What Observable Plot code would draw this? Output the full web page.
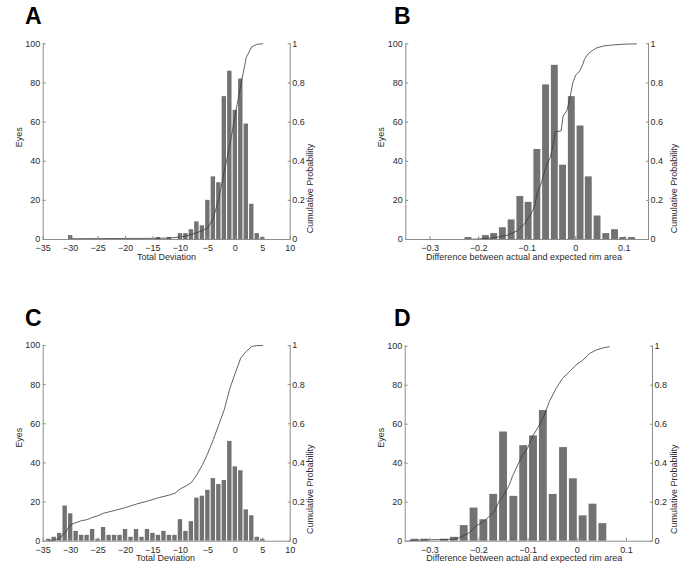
<!DOCTYPE html>
<html><head><meta charset="utf-8">
<script src="https://cdn.jsdelivr.net/npm/d3@7"></script>
<script src="https://cdn.jsdelivr.net/npm/@observablehq/plot@0.6"></script>
<style>
body{margin:0;background:#fff;}
#root{position:relative;width:685px;height:568px;background:#fff;overflow:hidden;}
.panel{position:absolute;}
.letter{position:absolute;font:bold 23px "Liberation Sans",Arial,sans-serif;color:#000;line-height:1;}
</style></head><body><div id="root"></div>
<script>
// ---------- data ----------
const yTicks = [0, 20, 40, 60, 80, 100];
const tdTicks = [-35, -30, -25, -20, -15, -10, -5, 0, 5, 10];
const rimTicks = [-0.3, -0.2, -0.1, 0, 0.1];

// Panel A: Total Deviation histogram
const aBins = [-30, -14, -12, -10, -9, -8, -7, -6, -5, -4, -3, -2, -1, 0, 1, 2, 3, 4, 5];
const aEyes = [2, 1, 1, 3, 3, 5, 9, 7, 20, 32, 29, 73, 86, 66, 82, 59, 18, 3, 1];
const aCdfX = [-30, -14, -12, -10, -9, -8, -7, -6, -5, -4, -3, -2, -1, 0, 1, 2, 3, 4, 5];
const aCdfP = [0.004, 0.006, 0.008, 0.012, 0.018, 0.025, 0.035, 0.045, 0.06, 0.11, 0.21, 0.35, 0.48, 0.64, 0.79, 0.93, 0.985, 0.998, 1.0];

// Panel B: rim area difference histogram
const bBins = [-0.221, -0.203, -0.185, -0.168, -0.150, -0.132, -0.114, -0.097, -0.079, -0.061, -0.043, -0.026, -0.008, 0.010, 0.027, 0.045, 0.063, 0.081, 0.098, 0.116];
const bEyes = [1, 0, 2, 3, 6, 10, 22, 19, 46, 79, 89, 38, 73, 58, 32, 12, 3, 5, 1, 1];
const bCdfX = [-0.224, -0.20, -0.18, -0.16, -0.14, -0.12, -0.105, -0.095, -0.088, -0.083, -0.079, -0.072, -0.066, -0.060, -0.052, -0.047, -0.042, -0.030, -0.026, -0.018, -0.012, -0.006, 0.0, 0.008, 0.014, 0.018, 0.026, 0.034, 0.044, 0.060, 0.080, 0.100, 0.125];
const bCdfP = [0.0, 0.003, 0.006, 0.012, 0.022, 0.045, 0.08, 0.12, 0.15, 0.19, 0.24, 0.28, 0.33, 0.38, 0.42, 0.48, 0.55, 0.555, 0.63, 0.66, 0.72, 0.80, 0.84, 0.86, 0.89, 0.92, 0.95, 0.965, 0.98, 0.99, 0.995, 0.998, 1.0];

// Panel C: Total Deviation histogram
const cBins = [-34, -33, -32, -31, -30, -29, -28, -27, -26, -25, -24, -23, -22, -21, -20, -19, -18, -17, -16, -15, -14, -13, -12, -11, -10, -9, -8, -7, -6, -5, -4, -3, -2, -1, 0, 1, 2, 3, 4, 5];
const cEyes = [1, 2, 4, 18, 14, 5, 3, 3, 6, 1, 7, 3, 3, 3, 6, 2, 6, 2, 6, 4, 3, 5, 3, 3, 11, 5, 10, 22, 23, 26, 32, 29, 31, 51, 38, 36, 16, 13, 2, 1];
const cCdfX = [-34, -33, -32, -31, -30, -29, -28, -27, -26, -25, -24, -22, -20, -18, -16, -14, -12, -11, -10, -9, -8, -7, -6, -5, -4, -3, -2, -1, 0, 1, 2, 3, 4, 5];
const cCdfP = [0.002, 0.006, 0.015, 0.045, 0.085, 0.095, 0.105, 0.11, 0.122, 0.13, 0.143, 0.157, 0.172, 0.19, 0.205, 0.222, 0.236, 0.245, 0.268, 0.282, 0.30, 0.34, 0.39, 0.45, 0.52, 0.596, 0.673, 0.78, 0.86, 0.937, 0.97, 0.995, 1.0, 1.0];

// Panel D: rim area difference histogram
const dBins = [-0.330, -0.310, -0.290, -0.270, -0.250, -0.230, -0.210, -0.190, -0.170, -0.150, -0.129, -0.109, -0.089, -0.069, -0.049, -0.028, -0.008, 0.012, 0.032, 0.052];
const dEyes = [1, 1, 0, 1, 2, 8, 17, 11, 24, 56, 23, 49, 54, 67, 24, 48, 32, 13, 19, 9];
const dCdfX = [-0.342, -0.301, -0.254, -0.24, -0.22, -0.206, -0.186, -0.169, -0.159, -0.149, -0.138, -0.132, -0.121, -0.111, -0.101, -0.091, -0.077, -0.067, -0.057, -0.043, -0.030, -0.016, -0.003, 0.011, 0.0245, 0.038, 0.052, 0.065];
const dCdfP = [0.003, 0.007, 0.01, 0.017, 0.043, 0.077, 0.11, 0.153, 0.204, 0.238, 0.29, 0.332, 0.392, 0.443, 0.477, 0.537, 0.596, 0.647, 0.715, 0.784, 0.835, 0.869, 0.903, 0.928, 0.962, 0.98, 0.991, 0.997];

const letters = ["A", "B", "C", "D"];
const xTitles = ["Total Deviation", "Difference between actual and expected rim area"];
const yTitle = "Eyes";
const y2Title = "Cumulative Probability";

// ---------- styling ----------
const FONT = '"Liberation Sans", Arial, sans-serif';
const BAR = "#727272";
const LINE = "#3a3a3a";
const AXIS = "#8c8c8c";
const TEXT = "#2b2b2b";
const fmt = d3.format("~g");

const root = document.getElementById("root");

function panel(cfg) {
  const {ox, oy, w, h, pl, pt, pr, pb, xDomain, xTicks, bins, eyes, half, cdfX, cdfP, xTitle, xLab, eyesLab, cumLab, letter, letterPos} = cfg;
  const bars = bins.map((c, i) => ({x1: c - half, x2: c + half, y: eyes[i]}));
  const cdf = cdfX.map((x, i) => ({x, p: cdfP[i]}));
  const mL = pl - ox, mT = pt - oy, mR = ox + w - pr, mB = oy + h - pb;
  const cx = (pl + pr) / 2, cy = (pt + pb) / 2;
  const axisOpts = {fontSize: 9, color: TEXT, stroke: AXIS, fill: TEXT, label: null};
  const svg = Plot.plot({
    width: w, height: h,
    marginLeft: mL, marginRight: mR, marginTop: mT, marginBottom: mB,
    x: {domain: xDomain},
    y: {domain: [0, 100]},
    style: {fontFamily: FONT, fontSize: "9px", background: "transparent", color: TEXT, overflow: "visible"},
    marks: [
      Plot.rect(bars, {x1: "x1", x2: "x2", y1: 0, y2: "y", fill: BAR}),
      Plot.line(cdf, {x: "x", y: d => d.p * 100, stroke: LINE, strokeWidth: 0.8}),
      Plot.ruleX([xDomain[0], xDomain[1]], {stroke: AXIS, strokeWidth: 1}),
      Plot.ruleY([0], {stroke: AXIS, strokeWidth: 1}),
      Plot.axisX({...axisOpts, anchor: "bottom", ticks: xTicks, tickFormat: fmt, tickSize: -3, tickPadding: 8}),
      Plot.axisY({...axisOpts, anchor: "left", ticks: yTicks, tickFormat: fmt, tickSize: -3, tickPadding: 6}),
      Plot.axisY({...axisOpts, anchor: "right", ticks: yTicks, tickFormat: d => fmt(d / 100), tickSize: -3, tickPadding: 5}),
      Plot.text([xTitle], {text: d => d, frameAnchor: "bottom", dx: xLab[0] - cx, dy: xLab[1] - pb, lineAnchor: "middle", fontSize: 9, fill: TEXT}),
      Plot.text([yTitle], {text: d => d, frameAnchor: "left", dx: eyesLab[0] - pl, dy: eyesLab[1] - cy, rotate: -90, lineAnchor: "middle", fontSize: 9, fill: TEXT}),
      Plot.text([y2Title], {text: d => d, frameAnchor: "right", dx: cumLab[0] - pr, dy: cumLab[1] - cy, rotate: -90, lineAnchor: "middle", fontSize: 9, fill: TEXT})
    ]
  });
  const div = document.createElement("div");
  div.className = "panel";
  div.style.left = ox + "px";
  div.style.top = oy + "px";
  div.appendChild(svg);
  root.appendChild(div);
  const L = document.createElement("div");
  L.className = "letter";
  L.textContent = letter;
  L.style.left = letterPos[0] + "px";
  L.style.top = letterPos[1] + "px";
  root.appendChild(L);
}

panel({ox: 0, oy: 0, w: 342, h: 268, pl: 42.7, pt: 43.3, pr: 289.7, pb: 239,
  xDomain: [-35, 10], xTicks: tdTicks, bins: aBins, eyes: aEyes, half: 0.4,
  cdfX: aCdfX, cdfP: aCdfP, xTitle: xTitles[0],
  xLab: [166, 256.5], eyesLab: [18.3, 146.7], cumLab: [310, 143.3], letter: letters[0], letterPos: [25, 5]});

panel({ox: 342, oy: 0, w: 343, h: 268, pl: 405.3, pt: 43.3, pr: 648, pb: 239,
  xDomain: [-0.35, 0.15], xTicks: rimTicks, bins: bBins, eyes: bEyes, half: 0.0071,
  cdfX: bCdfX, cdfP: bCdfP, xTitle: xTitles[1],
  xLab: [523.5, 256.5], eyesLab: [380.3, 146.7], cumLab: [673.7, 143.3], letter: letters[1], letterPos: [394, 5]});

panel({ox: 0, oy: 284, w: 342, h: 284, pl: 42.7, pt: 345, pr: 289.7, pb: 540.7,
  xDomain: [-35, 10], xTicks: tdTicks, bins: cBins, eyes: cEyes, half: 0.4,
  cdfX: cCdfX, cdfP: cCdfP, xTitle: xTitles[0],
  xLab: [165, 558], eyesLab: [18.3, 447.3], cumLab: [310, 444], letter: letters[2], letterPos: [25, 307]});

panel({ox: 342, oy: 284, w: 343, h: 284, pl: 404.7, pt: 345.7, pr: 652, pb: 540.7,
  xDomain: [-0.35, 0.153], xTicks: rimTicks, bins: dBins, eyes: dEyes, half: 0.008,
  cdfX: dCdfX, cdfP: dCdfP, xTitle: xTitles[1],
  xLab: [523.7, 558], eyesLab: [380.3, 447.3], cumLab: [673.7, 444], letter: letters[3], letterPos: [394, 307]});
</script>
</body></html>
